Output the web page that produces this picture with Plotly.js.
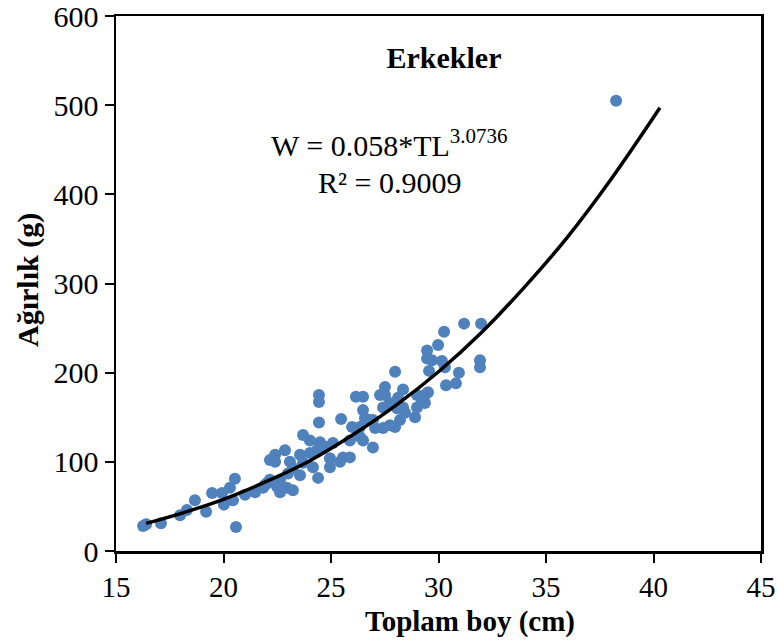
<!DOCTYPE html>
<html>
<head>
<meta charset="utf-8">
<script src="https://cdn.plot.ly/plotly-3.0.1.min.js"></script>
<style>html,body{margin:0;padding:0;background:#fff;}#chart{width:777px;height:641px;}</style>
</head>
<body>
<div id="chart"></div>
<script>
// Observed points: total length (cm) and weight (g)
const tl = [
  16.26, 16.4, 17.09, 17.98, 18.30, 18.67, 19.19, 19.47, 19.93, 20.02, 20.30, 20.53, 20.44, 21.0, 21.47, 22.02, 22.16, 20.58,
  24.44, 24.44, 26.16, 26.49, 27.28, 24.44, 25.47, 25.98, 26.49, 26.58, 26.35, 26.95, 26.95,
  23.70, 24.02, 24.49, 25.09, 25.88, 26.35, 26.49, 22.86, 22.40, 22.40, 23.09, 23.56, 24.02, 24.35, 24.72,
  24.95, 25.56, 25.88, 23.70, 24.16, 23.23, 23.0, 23.56, 24.40, 22.16, 22.63, 21.93, 22.49, 22.95, 23.23,
  22.63, 21.84, 24.95, 25.42,
  31.19, 31.98, 30.26, 29.98, 29.47, 29.47, 29.7, 30.16, 30.3, 29.56, 31.93, 31.93, 30.95, 30.81, 30.35,
  27.98, 27.51, 27.51, 28.35, 28.12, 27.74, 27.42, 28.07, 28.35, 29.0, 29.37, 29.51, 29.23, 29.37, 29.0,
  28.44, 28.91, 28.21, 27.74, 27.98, 27.42, 27.05, 26.81,
  38.26
];
const w = [
  28, 30, 31, 40, 46, 57, 44, 65, 65, 52, 71, 81, 57, 63, 66, 76, 102, 27,
  175, 167, 173, 173, 175, 144, 148, 139, 158, 149, 139, 147, 116,
  130, 124, 122, 121, 124, 128, 124, 113, 108, 100, 100, 108, 110, 113, 117,
  104, 105, 105, 99, 94, 93, 87, 85, 82, 80, 80, 74, 72, 71, 68,
  66, 71, 94, 100,
  255, 255, 246, 231, 225, 216, 214, 213, 206, 202, 214, 206, 200, 188, 186,
  201, 184, 175, 181, 172, 166, 161, 160, 161, 175, 175, 178, 167, 166, 161,
  155, 150, 147, 141, 139, 138, 138, 147,
  505
];
// Power trend line
const trendTL = [16.4, 18, 20, 22, 24, 26, 28, 30, 32, 34, 36, 38, 40.3];
const trendW  = [31, 42, 58, 78, 101, 130, 163, 201, 245, 296, 352, 416, 497];

const titleText = 'Erkekler';
const xTitle = 'Toplam boy (cm)';
const yTitle = 'Ağırlık (g)';
const eqLine1 = 'W = 0.058*TL<sup>3.0736</sup>';
const eqLine2 = 'R² = 0.9009';

const fontFam = '"Liberation Serif", "Times New Roman", serif';

const data = [
  {x: tl, y: w, type: 'scatter', mode: 'markers',
   marker: {color: '#4F81BD', size: 12}, hoverinfo: 'x+y', showlegend: false},
  {x: trendTL, y: trendW, type: 'scatter', mode: 'lines',
   line: {color: '#000000', width: 3.5, shape: 'spline'}, showlegend: false}
];

const layout = {
  width: 777, height: 641,
  margin: {l: 116, r: 16, t: 16, b: 90},
  paper_bgcolor: '#ffffff', plot_bgcolor: '#ffffff',
  font: {family: fontFam, color: '#000000', size: 29},
  title: {text: '<b>' + titleText + '</b>', x: 444/777, xanchor: 'center', y: 1 - 57/641, yanchor: 'middle',
          font: {family: fontFam, size: 30, color: '#000'}},
  xaxis: {
    range: [15, 45], dtick: 5, tick0: 15,
    showgrid: false, zeroline: false,
    showline: true, linecolor: '#000', linewidth: 2.5, mirror: true,
    ticks: 'outside', ticklen: 9, tickwidth: 2, tickcolor: '#000',
    ticklabeloverflow: 'allow',
    tickfont: {family: fontFam, size: 29, color: '#000'}
  },
  yaxis: {
    range: [0, 600], dtick: 100,
    showgrid: false, zeroline: false,
    showline: true, linecolor: '#000', linewidth: 2.5, mirror: true,
    ticks: 'outside', ticklen: 9, tickwidth: 2, tickcolor: '#000',
    ticklabeloverflow: 'allow',
    tickfont: {family: fontFam, size: 30, color: '#000'}
  },
  annotations: [
    {xref: 'paper', yref: 'paper', x: (389-116)/645, y: (551-143)/535, xanchor: 'center', yanchor: 'middle',
     text: eqLine1, showarrow: false, font: {family: fontFam, size: 30, color: '#000'}},
    {xref: 'paper', yref: 'paper', x: (389-116)/645, y: (551-183)/535, xanchor: 'center', yanchor: 'middle',
     text: eqLine2, showarrow: false, font: {family: fontFam, size: 30, color: '#000'}},
    {xref: 'paper', yref: 'paper', x: (470-116)/645, y: (551-621)/535, xanchor: 'center', yanchor: 'middle',
     text: '<b>' + xTitle + '</b>', showarrow: false, font: {family: fontFam, size: 29, color: '#000'}},
    {xref: 'paper', yref: 'paper', x: (28-116)/645, y: (551-280)/535, xanchor: 'center', yanchor: 'middle',
     textangle: -90, text: '<b>' + yTitle + '</b>', showarrow: false, font: {family: fontFam, size: 30, color: '#000'}}
  ]
};

Plotly.newPlot('chart', data, layout, {displayModeBar: false, staticPlot: true});
</script>
</body>
</html>
